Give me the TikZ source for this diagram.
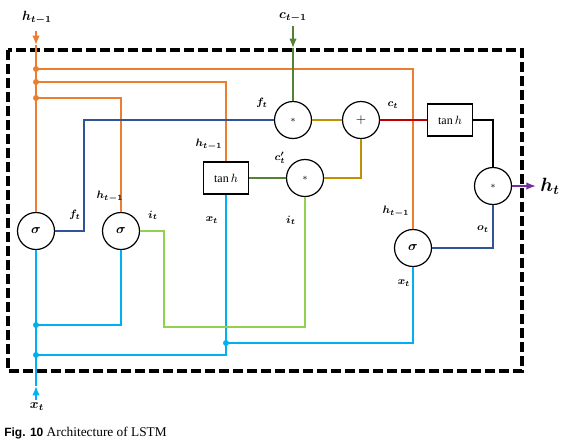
\documentclass[tikz,border=0pt]{standalone}
\usepackage{amsmath}
\usepackage{amssymb}
\usepackage{bm}
\usepackage{fontspec}
\setmainfont{Liberation Serif}
\setsansfont{Liberation Sans}
\usepackage{tikz}
\usetikzlibrary{arrows,arrows.meta,shapes}
\usetikzlibrary{positioning}
\definecolor{hcol}{RGB}{237,125,49}
\definecolor{xcol}{RGB}{0,176,240}
\definecolor{fcol}{RGB}{47,85,151}
\definecolor{icol}{RGB}{146,208,80}
\definecolor{ccol}{RGB}{84,130,53}
\definecolor{gcol}{RGB}{191,144,0}
\definecolor{rcol}{RGB}{192,0,0}
\definecolor{pcol}{RGB}{112,48,160}
\tikzstyle{gate} = [draw, circle, line width=0.9pt, minimum size=27.75pt,
    inner sep=0pt]
\tikzstyle{tbox} = [draw, rectangle, line width=0.9pt, minimum width=33.75pt,
    minimum height=24pt, inner sep=0pt]
\tikzstyle{wire} = [line width=1pt]
\tikzstyle{lbl} = [font=\footnotesize, inner sep=0pt]
\tikzstyle{junc} = [circle, fill, inner sep=0pt, minimum size=4.5pt]

\begin{document}
\begin{tikzpicture}[x=0.75pt, y=-0.75pt, >={Latex[length=7pt,width=5.5pt]}]
  \useasboundingbox (0,0) rectangle (563,443);
  % Place nodes
  \node [gate] (sig1) at (36,231) {$\bm{\sigma}$};
  \node [gate] (sig2) at (121,231) {$\bm{\sigma}$};
  \node [gate] (sig3) at (413,248) {$\bm{\sigma}$};
  \node [gate] (mul1) at (293,120) {\scriptsize$*$};
  \node [gate] (add) at (361,120) {$+$};
  \node [gate] (mul2) at (305,178) {\scriptsize$*$};
  \node [gate] (mul3) at (493,186) {\scriptsize$*$};
  \node [tbox] (tanh1) at (226,178) {\small$\tan h$};
  \node [tbox] (tanh2) at (450,120) {\small$\tan h$};
  % Inputs and output
  \node (hin) at (37,18) {$\bm{h_{t-1}}$};
  \node (cin) at (293,17) {$\bm{c_{t-1}}$};
  \node (xin) at (37,407) {$\bm{x_t}$};
  \node (hout) at (550,186) {\Large$\bm{h_t}$};
  \coordinate (htip) at (36,45);
  \coordinate (ctip) at (293,48);
  \coordinate (xtip) at (36,386);
  % Junctions
  \node [junc, hcol] (oh1) at (36,69) {};
  \node [junc, hcol] (oh2) at (36,82) {};
  \node [junc, hcol] (oh3) at (36,98) {};
  \node [junc, xcol] (bx1) at (36,325) {};
  \node [junc, xcol] (bx2) at (36,355) {};
  \node [junc, xcol] (bx3) at (226,343) {};
  \coordinate (fbend) at (84,120);
  \coordinate (ibend) at (164,327);
  % Cell boundary
  \draw [line width=2.5pt, dash pattern=on 7.5pt off 3pt] (8,50) rectangle (522,371);
  % Previous hidden state
  \draw [wire, hcol, ->] (36,31) -- (htip);
  \draw [wire, hcol] (htip) -- (sig1.north);
  \draw [wire, hcol] (oh1.center) -| (sig3.north);
  \draw [wire, hcol] (oh2.center) -| (tanh1.north);
  \draw [wire, hcol] (oh3.center) -| (sig2.north);
  % Current input
  \draw [wire, xcol, ->] (36,400) -- (xtip);
  \draw [wire, xcol] (xtip) -- (sig1.south);
  \draw [wire, xcol] (bx1.center) -| (sig2.south);
  \draw [wire, xcol] (bx2.center) -| (tanh1.south);
  \draw [wire, xcol] (bx3.center) -| (sig3.south);
  % Gates
  \draw [wire, fcol] (sig1.east) -| (fbend) -- (mul1.west);
  \draw [wire, icol] (sig2.east) -| (ibend) -| (mul2.south);
  \draw [wire, fcol] (sig3.east) -| (mul3.south);
  % Cell state
  \draw [wire, ccol, ->] (cin.south) -- (ctip);
  \draw [wire, ccol] (ctip) -- (mul1.north);
  \draw [wire, ccol] (tanh1.east) -- (mul2.west);
  \draw [wire, gcol] (mul1.east) -- (add.west);
  \draw [wire, gcol] (mul2.east) -| (add.south);
  \draw [wire, rcol] (add.east) -- (tanh2.west);
  \draw [wire] (tanh2.east) -| (mul3.north);
  \draw [wire, pcol, ->] (mul3.east) -- (hout.west);
  % Labels
  \node [lbl] at (75,215) {$\bm{f_t}$};
  \node [lbl] at (110,197) {$\bm{h_{t-1}}$};
  \node [lbl] at (153,215) {$\bm{i_t}$};
  \node [lbl] at (262,103) {$\bm{f_t}$};
  \node [lbl] at (209,145) {$\bm{h_{t-1}}$};
  \node [lbl] at (280,158) {$\bm{c'_t}$};
  \node [lbl] at (212,220) {$\bm{x_t}$};
  \node [lbl] at (291,220) {$\bm{i_t}$};
  \node [lbl] at (393,105) {$\bm{c_t}$};
  \node [lbl] at (396,212) {$\bm{h_{t-1}}$};
  \node [lbl] at (483,229) {$\bm{o_t}$};
  \node [lbl] at (404,283) {$\bm{x_t}$};
  % Caption
  \node [anchor=base west, inner sep=0pt] (cap) at (4,436)
    {{\sffamily\bfseries\small Fig. 10} Architecture of LSTM};
\end{tikzpicture}
\end{document}
